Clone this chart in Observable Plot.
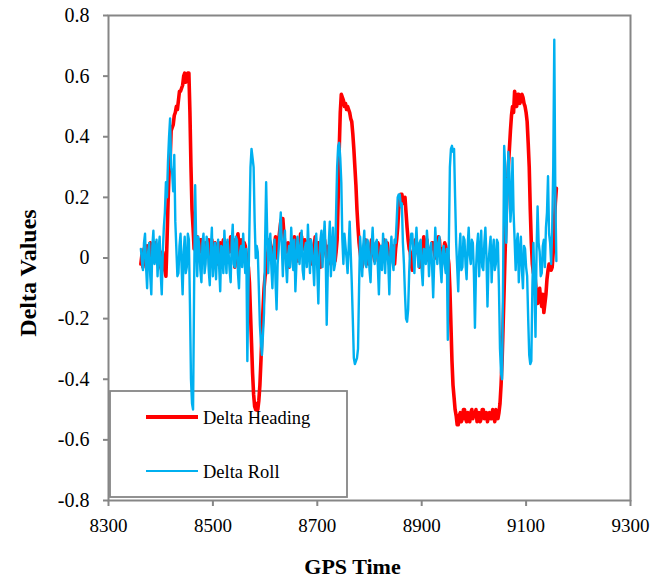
<!DOCTYPE html>
<html>
<head>
<meta charset="utf-8">
<script src="https://cdn.jsdelivr.net/npm/d3@7"></script>
<script src="https://cdn.jsdelivr.net/npm/@observablehq/plot@0.6"></script>
<style>
  html, body { margin: 0; padding: 0; background: #fff; }
  #chart { width: 650px; height: 578px; }
</style>
</head>
<body>
<div id="chart"></div>
<script>
// GPS time sampling grid (seconds)
const gpsStart = 8362;
const gpsStep = 2;

// Delta Heading series
const deltaHeading = [
  -0.02, 0.01, -0.03, 0.03, 0.01, -0.02, 0.04, 0.00, 0.02, 0.05, -0.01, 0.03, 0.03, -0.01, 0.05, 0.01, -0.02, 0.04, 0.02, -0.03,
  -0.04, 0.02, -0.01, -0.04, -0.06, 0.05, 0.18, 0.28, 0.32, 0.42, 0.43, 0.44, 0.47, 0.48, 0.50, 0.49, 0.52, 0.55, 0.55, 0.56,
  0.57, 0.60, 0.61, 0.58, 0.60, 0.61, 0.61, 0.48, 0.30, 0.16, 0.10, 0.03, 0.05, 0.00, 0.07, 0.04, 0.02, 0.06, 0.06, 0.01,
  0.00, 0.04, 0.05, 0.01, 0.03, 0.06, -0.03, 0.02, 0.06, 0.00, 0.02, 0.05, 0.04, 0.01, -0.02, 0.03, 0.05, 0.02, 0.01, 0.06,
  0.06, 0.03, 0.00, 0.05, 0.04, 0.02, 0.07, 0.03, 0.02, 0.06, -0.03, 0.01, 0.05, 0.08, 0.03, 0.00, 0.06, 0.04, 0.02, 0.05,
  0.04, 0.01, -0.02, -0.03, -0.08, -0.18, -0.28, -0.38, -0.45, -0.49, -0.50, -0.48, -0.50, -0.47, -0.42, -0.34, -0.25, -0.17, -0.10, -0.06,
  -0.04, 0.00, 0.03, 0.06, 0.05, 0.01, -0.02, 0.03, 0.04, 0.07, 0.00, 0.04, 0.06, 0.09, 0.12, 0.13, 0.13, 0.08, 0.04, 0.02,
  0.02, 0.05, -0.03, 0.01, 0.05, 0.03, 0.02, 0.07, 0.06, 0.02, -0.01, 0.04, 0.04, 0.08, 0.07, 0.03, 0.03, 0.06, 0.05, 0.01,
  0.02, 0.04, 0.06, 0.03, -0.02, 0.02, 0.04, 0.07, 0.01, 0.03, 0.05, 0.02, -0.03, 0.01, 0.03, 0.06, 0.06, 0.02, 0.00, 0.03,
  0.04, 0.01, -0.02, 0.02, 0.03, 0.05, -0.01, 0.02, 0.06, 0.20, 0.36, 0.48, 0.54, 0.53, 0.52, 0.50, 0.51, 0.49, 0.50, 0.49,
  0.48, 0.46, 0.45, 0.41, 0.36, 0.30, 0.24, 0.16, 0.10, 0.05, 0.02, -0.01, -0.03, 0.02, 0.04, 0.06, 0.01, 0.03, -0.02, 0.02,
  0.03, 0.06, 0.05, 0.01, -0.01, 0.03, 0.02, 0.05, 0.04, 0.00, -0.03, 0.02, 0.03, 0.06, 0.01, 0.04, 0.05, 0.02, -0.02, 0.01,
  0.02, 0.04, 0.00, -0.02, 0.03, 0.06, 0.10, 0.16, 0.19, 0.21, 0.21, 0.19, 0.18, 0.20, 0.15, 0.10, 0.06, 0.03, 0.02, -0.02,
  -0.04, 0.00, 0.03, 0.06, 0.05, 0.02, 0.01, -0.03, -0.02, 0.02, 0.04, 0.07, 0.02, 0.04, 0.06, 0.01, -0.01, 0.03, 0.03, 0.05,
  0.05, 0.02, 0.00, 0.04, 0.03, 0.07, 0.06, 0.01, -0.02, 0.03, 0.02, 0.05, 0.04, 0.02, 0.01, -0.02, -0.10, -0.22, -0.34, -0.42,
  -0.46, -0.50, -0.52, -0.55, -0.55, -0.52, -0.51, -0.54, -0.53, -0.50, -0.50, -0.53, -0.54, -0.51, -0.52, -0.54, -0.51, -0.50, -0.53, -0.51,
  -0.52, -0.50, -0.54, -0.52, -0.51, -0.54, -0.53, -0.50, -0.50, -0.53, -0.52, -0.51, -0.54, -0.52, -0.51, -0.53, -0.53, -0.50, -0.52, -0.54,
  -0.50, -0.52, -0.53, -0.51, -0.48, -0.42, -0.34, -0.22, -0.10, 0.03, 0.15, 0.24, 0.30, 0.36, 0.42, 0.47, 0.50, 0.48, 0.55, 0.52,
  0.50, 0.54, 0.54, 0.51, 0.52, 0.54, 0.53, 0.51, 0.50, 0.48, 0.45, 0.38, 0.30, 0.16, 0.05, -0.02, -0.05, -0.03, -0.08, -0.12,
  -0.15, -0.11, -0.10, -0.14, -0.16, -0.12, -0.18, -0.15, -0.12, -0.07, -0.04, -0.02, -0.02, -0.04, -0.03, 0.02, 0.10, 0.18, 0.23
];

// Delta Roll series
const deltaRoll = [
  0.03, -0.01, -0.04, 0.05, 0.08, -0.03, -0.10, 0.02, 0.05, -0.06, -0.12, 0.04, 0.09, -0.02, 0.00, 0.06, -0.06, 0.03, 0.07, -0.05,
  -0.12, 0.02, 0.10, 0.15, 0.25, 0.20, 0.32, 0.40, 0.46, 0.30, 0.28, 0.22, 0.34, 0.12, 0.03, -0.06, -0.05, 0.04, 0.08, -0.03,
  -0.12, 0.02, 0.07, -0.05, -0.03, 0.08, 0.06, -0.15, -0.40, -0.48, -0.50, -0.10, 0.24, 0.05, -0.06, 0.07, 0.04, -0.04, -0.08, 0.05,
  0.08, -0.05, -0.02, 0.07, 0.05, -0.04, -0.09, 0.03, 0.10, -0.06, 0.00, 0.05, -0.07, 0.02, 0.06, -0.03, -0.11, 0.04, 0.03, -0.05,
  0.09, 0.01, -0.05, 0.06, 0.02, -0.04, -0.08, 0.05, 0.11, -0.02, -0.03, 0.07, 0.06, -0.05, -0.10, 0.02, 0.04, -0.03, 0.08, 0.01,
  -0.05, 0.03, -0.34, -0.10, 0.10, 0.30, 0.36, 0.33, 0.30, 0.12, 0.00, 0.04, 0.02, -0.10, -0.22, -0.28, -0.32, -0.25, -0.18, 0.05,
  0.25, 0.08, -0.05, 0.04, 0.08, -0.03, -0.10, 0.02, 0.06, -0.08, -0.17, -0.02, 0.03, 0.09, 0.15, 0.04, -0.06, 0.05, 0.09, -0.02,
  -0.08, 0.01, 0.04, -0.03, 0.10, 0.03, -0.04, 0.06, -0.11, -0.02, 0.07, 0.02, -0.02, 0.05, 0.09, -0.04, -0.07, 0.03, 0.05, -0.03,
  0.11, 0.02, -0.05, 0.06, 0.03, -0.02, -0.09, 0.04, 0.08, -0.04, -0.15, 0.01, 0.06, 0.09, -0.03, 0.05, 0.12, 0.02, -0.22, -0.05,
  0.05, 0.12, -0.06, 0.03, 0.10, -0.04, -0.02, 0.15, 0.30, 0.37, 0.38, 0.33, 0.25, 0.06, -0.02, 0.08, 0.04, 0.00, -0.05, 0.03,
  0.12, 0.02, -0.08, -0.20, -0.33, -0.35, -0.34, -0.33, -0.30, -0.10, 0.07, 0.01, -0.06, 0.04, 0.09, -0.02, -0.03, 0.06, 0.05, -0.04,
  -0.08, 0.03, 0.10, 0.02, -0.02, 0.05, 0.06, -0.03, -0.12, 0.01, 0.04, -0.04, 0.08, 0.02, -0.05, 0.06, 0.03, -0.02, -0.12, 0.02,
  0.07, -0.01, -0.04, 0.06, 0.05, 0.12, 0.20, 0.21, 0.21, 0.17, 0.18, 0.05, -0.02, -0.12, -0.20, -0.21, -0.17, -0.05, 0.04, 0.08,
  0.08, 0.01, -0.05, 0.04, 0.10, 0.02, -0.03, 0.05, 0.06, -0.04, -0.09, 0.03, 0.02, -0.02, 0.09, 0.04, -0.06, 0.02, 0.05, -0.03,
  -0.13, -0.01, 0.10, 0.03, -0.02, 0.05, 0.07, -0.03, -0.08, 0.02, 0.04, -0.02, -0.05, 0.03, -0.27, 0.05, 0.30, 0.36, 0.37, 0.35,
  0.36, 0.20, 0.05, -0.03, -0.11, 0.02, 0.08, -0.04, -0.03, 0.07, 0.06, -0.02, -0.07, 0.04, 0.10, 0.01, -0.02, 0.06, 0.05, -0.05,
  -0.23, -0.04, 0.04, 0.08, -0.06, 0.02, 0.09, -0.03, -0.04, 0.05, 0.10, 0.01, -0.16, -0.02, 0.03, 0.07, -0.08, 0.02, 0.06, -0.04,
  -0.02, 0.06, 0.05, -0.10, -0.30, -0.38, -0.40, -0.05, 0.37, 0.30, 0.05, 0.20, 0.35, 0.28, 0.12, 0.18, 0.33, 0.15, 0.06, -0.04,
  0.05, 0.08, -0.08, 0.02, 0.07, -0.04, -0.10, 0.04, 0.03, -0.03, -0.06, -0.20, -0.32, -0.35, -0.34, -0.10, 0.05, -0.08, -0.26, 0.02,
  0.17, 0.05, 0.02, -0.06, -0.05, 0.04, 0.06, -0.03, 0.10, 0.15, 0.27, 0.08, 0.05, -0.02, 0.10, 0.30, 0.72, 0.20, -0.01
];

const xTicks = [8300, 8500, 8700, 8900, 9100, 9300];
const yTicks = [-0.8, -0.6, -0.4, -0.2, 0, 0.2, 0.4, 0.6, 0.8];
const seriesNames = ["Delta Heading", "Delta Roll"];
const seriesColors = ["#FF0000", "#00B0F0"];
const xTitle = "GPS Time";
const yTitle = "Delta Values";

const n = Math.min(deltaHeading.length, deltaRoll.length);
const rows = d3.range(n).map(i => ({
  t: gpsStart + i * gpsStep,
  heading: deltaHeading[i],
  roll: deltaRoll[i]
}));

const fmt = d => d === 0 ? "0" : d.toFixed(1);

const chart = Plot.plot({
  width: 650,
  height: 578,
  marginLeft: 108,
  marginRight: 20,
  marginTop: 15,
  marginBottom: 78,
  style: { fontFamily: "'Liberation Serif', 'Times New Roman', serif", fontSize: "20px", background: "#fff", color: "#000" },
  x: { domain: [8300, 9300] },
  y: { domain: [-0.8, 0.8] },
  marks: [
    Plot.frame({ stroke: "#868686", strokeWidth: 2 }),
    Plot.lineY(rows, { x: "t", y: "heading", stroke: seriesColors[0], strokeWidth: 3.6 }),
    Plot.lineY(rows, { x: "t", y: "roll", stroke: seriesColors[1], strokeWidth: 2.4 }),
    Plot.axisX({ ticks: xTicks, tickFormat: d => String(d), tickSize: 6, tickPadding: 12, fontSize: 19, stroke: "#868686", strokeWidth: 2, fill: "#000", label: null }),
    Plot.axisY({ ticks: yTicks, tickFormat: fmt, tickSize: 5, tickPadding: 14, fontSize: 20, stroke: "#868686", strokeWidth: 2, fill: "#000", label: null }),
    Plot.text([xTitle], { frameAnchor: "bottom", textAnchor: "middle", lineAnchor: "middle", dx: -17, dy: 66, fontWeight: "bold", fontSize: 22, fill: "#000" }),
    Plot.text([yTitle], { frameAnchor: "left", textAnchor: "middle", lineAnchor: "middle", dx: -80, dy: 15, rotate: -90, fontWeight: "bold", fontSize: 24, fill: "#000" })
  ]
});

document.getElementById("chart").appendChild(chart);

// Legend box inside the plot area (drawn beneath the data lines)
const svg = d3.select(chart);
const lg = svg.insert("g", 'g[aria-label="line"]').attr("class", "legend");
lg.append("rect")
  .attr("x", 110).attr("y", 391).attr("width", 237).attr("height", 106)
  .attr("fill", "none").attr("stroke", "#868686").attr("stroke-width", 1.8);
const legendRows = [
  { name: seriesNames[0], color: seriesColors[0], y: 417, w: 4 },
  { name: seriesNames[1], color: seriesColors[1], y: 471, w: 2.2 }
];
legendRows.forEach(r => {
  lg.append("line")
    .attr("x1", 146).attr("x2", 198).attr("y1", r.y).attr("y2", r.y)
    .attr("stroke", r.color).attr("stroke-width", r.w);
  lg.append("text")
    .attr("x", 203).attr("y", r.y + 7)
    .attr("text-anchor", "start")
    .attr("font-size", 18.5).attr("fill", "#000")
    .text(r.name);
});
</script>
</body>
</html>
